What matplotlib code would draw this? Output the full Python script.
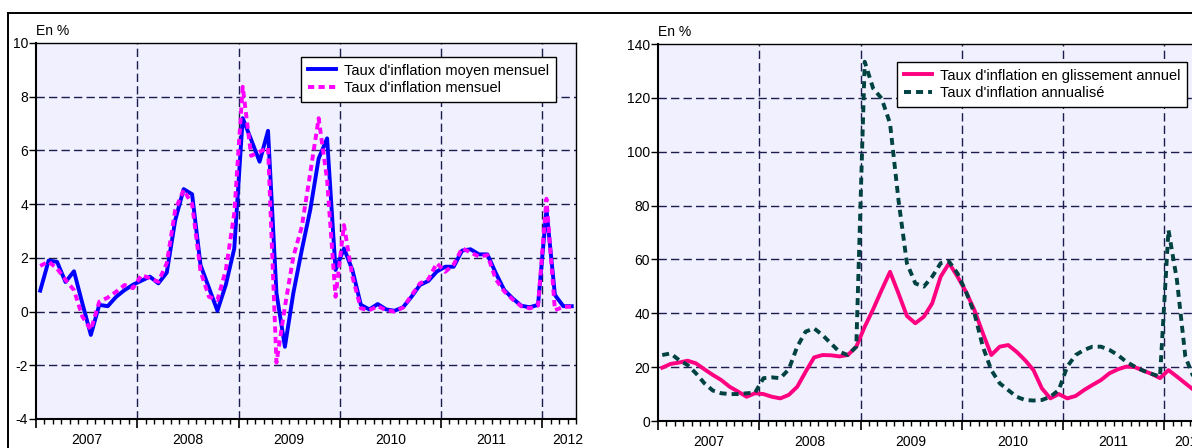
import matplotlib
matplotlib.use("Agg")
import matplotlib.pyplot as plt
from matplotlib import font_manager
from matplotlib.lines import Line2D
import numpy as np

names = {f.name for f in font_manager.fontManager.ttflist}
if "Liberation Sans Narrow" in names:
    FAM = ["Liberation Sans Narrow", "DejaVu Sans"]
    FS_TICK, FS_LEG = 12, 12
else:
    FAM = ["Liberation Sans", "DejaVu Sans"]
    FS_TICK, FS_LEG = 10, 10.5
plt.rcParams["font.family"] = FAM

years = ["2007", "2008", "2009", "2010", "2011", "2012"]

# Monthly, Jan 2007 .. Apr 2012 (64 months)
moyen_mensuel = [0.78, 1.9, 1.85, 1.1, 1.5, 0.3, -0.87, 0.25, 0.2, 0.55, 0.8, 1.0,
                 1.15, 1.3, 1.05, 1.45, 3.4, 4.56, 4.37, 1.73, 0.88, 0.03, 1.0, 2.35,
                 7.2, 6.4, 5.58, 6.73, 0.69, -1.31, 0.69, 2.29, 3.78, 5.7, 6.45, 1.55,
                 2.35, 1.55, 0.25, 0.08, 0.28, 0.08, 0.03, 0.16, 0.55, 0.99, 1.14, 1.49,
                 1.67, 1.67, 2.27, 2.32, 2.13, 2.13, 1.43, 0.8, 0.49, 0.22, 0.16, 0.25,
                 3.8, 0.62, 0.2, 0.2]
mensuel = [1.7, 1.86, 1.6, 1.18, 0.8, -0.19, -0.68, 0.37, 0.52, 0.74, 0.99, 0.87,
           1.36, 1.24, 1.11, 1.8, 3.78, 4.53, 4.0, 1.5, 0.55, 0.43, 1.55, 3.66,
           8.37, 5.8, 5.95, 6.1, -1.9, 0.18, 2.04, 3.16, 5.15, 7.2, 4.9, 0.55,
           3.22, 1.3, 0.12, 0.05, 0.2, 0.05, 0.0, 0.15, 0.6, 1.05, 1.2, 1.8,
           1.48, 1.75, 2.36, 2.2, 2.05, 2.1, 1.2, 0.75, 0.45, 0.2, 0.12, 0.22,
           4.2, 0.05, 0.18, 0.18]
glissement = [19.8, 21.2, 21.7, 22.4, 21.4, 19.2, 17.1, 15.2, 12.7, 10.9, 9.0, 10.3,
              10.0, 9.0, 8.4, 9.7, 12.7, 18.3, 23.6, 24.5, 24.4, 24.0, 24.5, 27.6,
              35.0, 41.5, 48.6, 55.4, 47.4, 39.0, 36.3, 38.7, 43.7, 53.6, 58.6, 53.6,
              48.0, 41.2, 32.6, 24.5, 27.6, 28.2, 25.7, 22.6, 18.9, 12.1, 8.4, 10.0,
              8.4, 9.3, 11.5, 13.4, 15.2, 17.7, 19.2, 20.2, 20.0, 18.7, 17.5, 15.9,
              18.9, 16.5, 14.0, 11.5]
annualise = [24.5, 25.1, 22.6, 20.8, 17.7, 14.0, 11.3, 10.3, 10.0, 10.0, 10.3, 10.5,
             15.9, 16.2, 15.9, 19.2, 27.6, 33.2, 34.4, 31.9, 28.8, 25.7, 24.5, 27.6,
             133.4, 123.5, 119.8, 110.5, 82.1, 58.6, 51.1, 49.9, 53.6, 58.6, 59.2, 54.8,
             48.0, 40.0, 27.6, 18.9, 14.0, 11.5, 9.0, 7.8, 7.6, 7.8, 9.0, 11.5,
             20.2, 24.5, 26.4, 27.6, 27.6, 26.4, 24.5, 22.0, 20.2, 18.7, 17.5, 16.5,
             70.9, 52.4, 23.9, 16.0]

n = len(moyen_mensuel)
x = np.arange(n) + 0.5

W, H = 1192, 448
PX = 72 / 100  # points per pixel
fig = plt.figure(figsize=(W / 100, H / 100), dpi=100)

BG = "#f0f0fe"
GRID = "#1c1c50"


def style_axes(ax, ylim, yticks):
    ax.set_facecolor(BG)
    ax.set_xlim(0, 64)
    ax.set_ylim(*ylim)
    ax.set_yticks(yticks)
    ax.set_yticklabels([str(v) for v in yticks], fontsize=FS_TICK)
    ax.set_xticks(range(0, 65, 12))
    ax.set_xticklabels([])
    ax.set_xticks(range(0, 65), minor=True)
    ax.tick_params(axis="x", which="major", length=9 * PX, width=1.2, direction="out", color="black")
    ax.tick_params(axis="x", which="minor", length=5 * PX, width=1.0, direction="out", color="black")
    ax.tick_params(axis="y", which="major", length=7 * PX, width=1.0, direction="out",
                   pad=1 * PX, color="black")
    for s in ax.spines.values():
        s.set_color("black")
        s.set_linewidth(1.0)
    ax.spines["left"].set_linewidth(1.5)
    ax.spines["bottom"].set_linewidth(1.5)
    for yv in yticks[1:-1]:
        ax.axhline(yv, color=GRID, lw=1.0, ls=(0, (6, 3)), zorder=1)
    for xv in range(12, 64, 12):
        ax.axvline(xv, color=GRID, lw=1.0, ls=(0, (6, 3)), zorder=1)
    trans = ax.get_xaxis_transform()
    for k, yr in enumerate(years):
        xc = 6 + 12 * k if k < 5 else 63
        ax.text(xc, -0.066, yr, transform=trans, ha="center", va="baseline",
                fontsize=FS_TICK, clip_on=False)
    ax.text(0, 1.012, "En %", transform=ax.transAxes, ha="left", va="bottom",
            fontsize=FS_TICK)


LEGKW = dict(fontsize=FS_LEG, fancybox=False, framealpha=1, edgecolor="black",
             borderpad=0.45, labelspacing=0.25, handlelength=1.95, handletextpad=0.55,
             borderaxespad=0, loc="upper left")

# Left panel
ax1 = fig.add_axes([36 / W, 1 - 419 / H, 540 / W, 376 / H])
style_axes(ax1, (-4, 10), [-4, -2, 0, 2, 4, 6, 8, 10])
ax1.plot(x, moyen_mensuel, color="#0000ff", lw=2.8,
         label="Taux d'inflation moyen mensuel", zorder=3)
ax1.plot(x, mensuel, color="#ff00ff", lw=2.8, ls=(0, (1.6, 1.1)),
         label="Taux d'inflation mensuel", zorder=4)
leg1 = ax1.legend(bbox_to_anchor=(301 / W, 1 - 57 / H), bbox_transform=fig.transFigure, **LEGKW)
leg1.get_frame().set_linewidth(1.0)

# Right panel
ax2 = fig.add_axes([658 / W, 1 - 421 / H, 540 / W, 377 / H])
style_axes(ax2, (0, 140), [0, 20, 40, 60, 80, 100, 120, 140])
ax2.plot(x, glissement, color="#ff0080", lw=2.8,
         label="Taux d'inflation en glissement annuel", zorder=3)
ax2.plot(x, annualise, color="#004242", lw=2.8, ls=(0, (1.8, 1.3)),
         label="Taux d'inflation annualisé", zorder=4)
leg2 = ax2.legend(bbox_to_anchor=(897 / W, 1 - 62 / H), bbox_transform=fig.transFigure, **LEGKW)
leg2.get_frame().set_linewidth(1.0)

# outer frame
fig.add_artist(Line2D([8 / W, 1.0], [1 - 13 / H, 1 - 13 / H], transform=fig.transFigure,
                      color="black", lw=1.4))
fig.add_artist(Line2D([8 / W, 8 / W], [0, 1 - 13 / H], transform=fig.transFigure,
                      color="black", lw=1.4))

fig.savefig("out.png", dpi=100)
